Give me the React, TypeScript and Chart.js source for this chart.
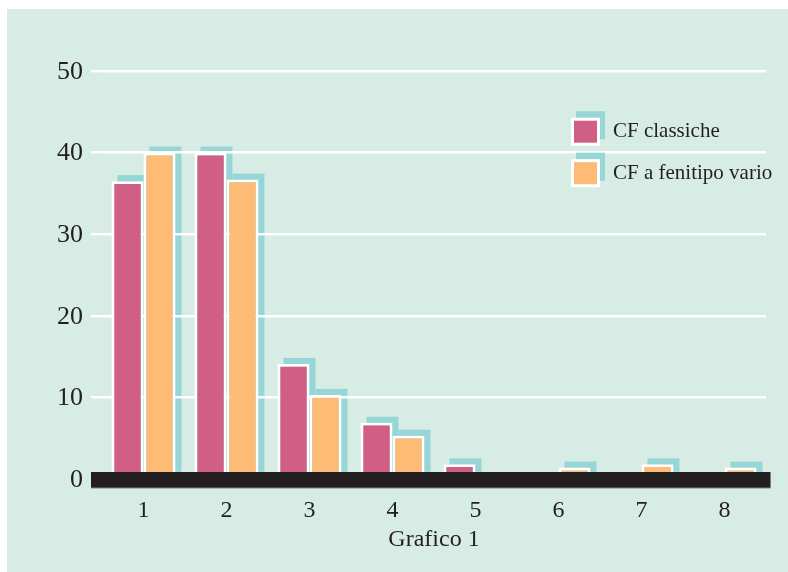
import { useEffect, useRef } from "react";
import { Chart, registerables } from "chart.js";

Chart.register(...registerables);

const categories = ["1", "2", "3", "4", "5", "6", "7", "8"];
const classicheValues = [36.5, 40, 14.1, 6.9, 1.8, 0, 0, 0];
const fenotipoValues = [40, 36.7, 10.3, 5.3, 0, 1.4, 1.8, 1.4];
const seriesLabels = ["CF classiche", "CF a fenitipo vario"];
const yTickValues = [0, 10, 20, 30, 40, 50];
const xTitle = "Grafico 1";

const FONT = "'Liberation Serif', 'Times New Roman', serif";
const PINK = "#d15e85";
const ORANGE = "#fdbb75";
const SHADOW = "#97d6d7";
const BG = "#d7ece5";
const INK = "#231f20";
const seriesColors = [PINK, ORANGE];

const W = 781;
const H = 563;

const chartPlugin = {
  id: "decor",
  beforeDraw(chart: any) {
    const ctx = chart.ctx;
    ctx.save();
    ctx.fillStyle = BG;
    ctx.fillRect(0, 0, chart.width, chart.height);
    // shadows behind bars
    ctx.fillStyle = SHADOW;
    chart.data.datasets.forEach((ds: any, di: number) => {
      const meta = chart.getDatasetMeta(di);
      meta.data.forEach((el: any, i: number) => {
        if (!ds.data[i]) return;
        const left = el.x - el.width / 2;
        const top = Math.min(el.y, el.base);
        const h = Math.abs(el.base - el.y);
        ctx.fillRect(left + 6, top - 6, el.width, h);
      });
    });
    ctx.restore();
  },
  afterDatasetsDraw(chart: any) {
    const ctx = chart.ctx;
    const ca = chart.chartArea;
    const y0 = chart.scales.y.getPixelForValue(0);
    ctx.save();
    ctx.fillStyle = INK;
    ctx.fillRect(ca.left - 11, y0 - 7, ca.right - ca.left + 15.5, 16);
    ctx.strokeStyle = "#808080";
    ctx.lineWidth = 1;
    ctx.beginPath();
    ctx.moveTo(ca.left - 11, y0 + 9);
    ctx.lineTo(ca.right + 4.5, y0 + 9);
    ctx.lineTo(ca.right + 4.5, y0 - 7);
    ctx.stroke();
    ctx.restore();
  },
  afterDraw(chart: any) {
    const ctx = chart.ctx;
    const ca = chart.chartArea;
    const bx = ca.right - 195;
    ctx.save();
    seriesLabels.forEach((label, i) => {
      const top = ca.top + 46.7 + i * 41.5;
      ctx.fillStyle = SHADOW;
      ctx.fillRect(bx + 5, top - 6.5, 29, 28);
      ctx.fillStyle = "#ffffff";
      ctx.fillRect(bx, top, 29, 28);
      ctx.fillStyle = seriesColors[i];
      ctx.fillRect(bx + 3, top + 3, 23, 22);
      ctx.fillStyle = INK;
      ctx.font = `21px ${FONT}`;
      ctx.textAlign = "left";
      ctx.textBaseline = "middle";
      ctx.fillText(label, bx + 42, top + 14);
    });
    ctx.restore();
  },
};

export default function App() {
  const ref = useRef<HTMLCanvasElement | null>(null);

  useEffect(() => {
    if (!ref.current) return;
    const chart = new Chart(ref.current, {
      type: "bar",
      data: {
        labels: categories,
        datasets: [
          {
            label: seriesLabels[0],
            data: classicheValues,
            backgroundColor: PINK,
            borderColor: "#ffffff",
            borderWidth: 2.8,
            barPercentage: 1,
            categoryPercentage: 0.771,
          },
          {
            label: seriesLabels[1],
            data: fenotipoValues,
            backgroundColor: ORANGE,
            borderColor: "#ffffff",
            borderWidth: 2.8,
            barPercentage: 1,
            categoryPercentage: 0.771,
          },
        ],
      },
      options: {
        responsive: false,
        animation: false,
        layout: { padding: { top: 62, right: 22, left: 0, bottom: 0 } },
        plugins: {
          legend: { display: false },
          tooltip: { enabled: false },
        },
        scales: {
          x: {
            grid: { display: false, drawTicks: false },
            border: { display: false },
            ticks: {
              color: INK,
              font: { family: FONT, size: 24 },
              padding: 17,
              maxRotation: 0,
            },
            title: {
              display: true,
              text: xTitle,
              color: INK,
              font: { family: FONT, size: 24 },
              padding: { top: 0, bottom: 17.6 },
            },
            afterFit: (s: any) => {
              s.height = 93;
            },
          },
          y: {
            min: 0,
            max: 50,
            afterBuildTicks: (s: any) => {
              s.ticks = yTickValues.map((v) => ({ value: v }));
            },
            grid: {
              color: "#ffffff",
              lineWidth: 2.4,
              drawTicks: true,
              tickLength: 11,
              tickColor: "#ffffff",
            },
            border: { display: false },
            ticks: {
              color: INK,
              font: { family: FONT, size: 26 },
              padding: 8,
              labelOffset: 1,
            },
            afterFit: (s: any) => {
              s.width = 95;
            },
          },
        },
      },
      plugins: [chartPlugin],
    });
    return () => chart.destroy();
  }, []);

  return (
    <div style={{ position: "fixed", left: 7, top: 9, width: W, height: H }}>
      <canvas ref={ref} width={W} height={H} style={{ display: "block" }} />
    </div>
  );
}
